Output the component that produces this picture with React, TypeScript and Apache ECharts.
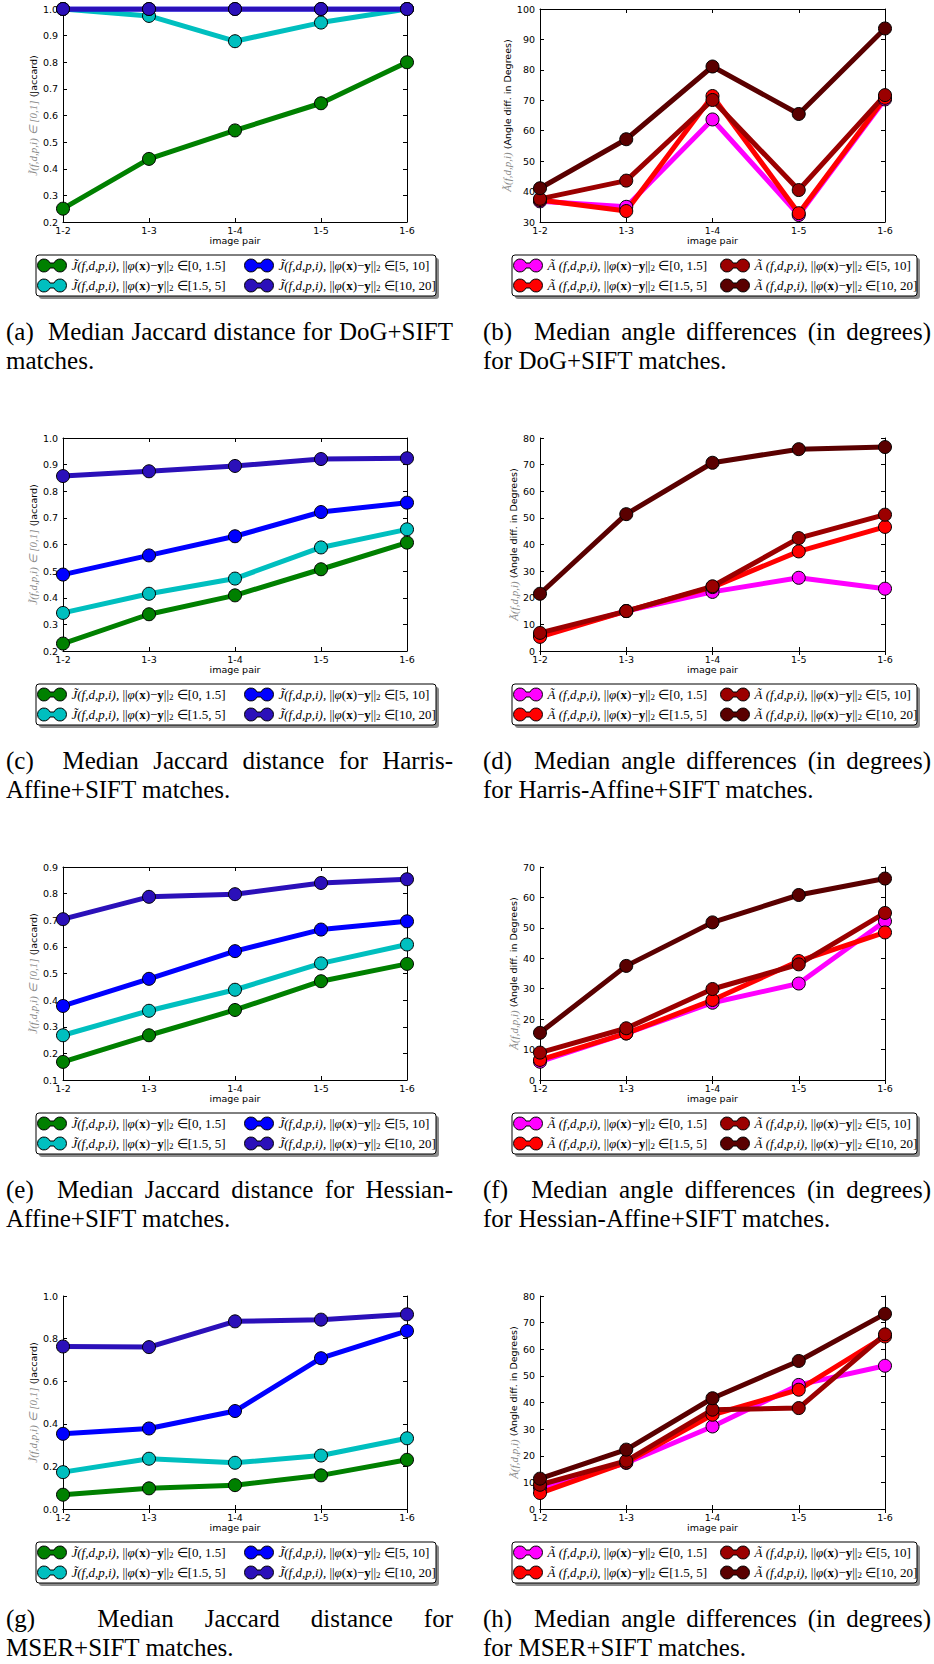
import React, { useEffect, useRef } from "react";
import * as echarts from "echarts";

// ---------- data ----------
const pairs = ["1-2", "1-3", "1-4", "1-5", "1-6"];
const ranges = ["[0, 1.5]", "[1.5, 5]", "[5, 10]", "[10, 20]"];
const jaccardColors = ["#008000", "#00bfbf", "#0000ff", "#2b10b9"];
const angleColors = ["#ff00ff", "#ff0000", "#9b0000", "#5a0000"];

// (a) DoG+SIFT, Jaccard
const dogJ0 = [0.25, 0.437, 0.544, 0.646, 0.8];
const dogJ1 = [1.0, 0.974, 0.879, 0.949, 1.0];
const dogJ2 = [1.0, 1.0, 1.0, 1.0, 1.0];
const dogJ3 = [1.0, 1.0, 1.0, 1.0, 1.0];
// (b) DoG+SIFT, angle
const dogA0 = [36.8, 35.0, 63.7, 32.3, 70.3];
const dogA1 = [37.2, 33.6, 71.4, 32.9, 70.8];
const dogA2 = [37.6, 43.6, 70.1, 40.5, 71.7];
const dogA3 = [41.1, 57.2, 81.1, 65.5, 93.6];
// (c) Harris-Affine+SIFT, Jaccard
const harJ0 = [0.228, 0.338, 0.409, 0.507, 0.607];
const harJ1 = [0.343, 0.415, 0.472, 0.589, 0.657];
const harJ2 = [0.487, 0.559, 0.631, 0.722, 0.757];
const harJ3 = [0.857, 0.875, 0.895, 0.921, 0.924];
// (d) Harris-Affine+SIFT, angle
const harA0 = [6.0, 15.0, 22.2, 27.5, 23.4];
const harA1 = [5.3, 15.0, 24.0, 37.4, 46.6];
const harA2 = [6.8, 15.0, 24.3, 42.4, 51.2];
const harA3 = [21.5, 51.4, 70.7, 75.8, 76.6];
// (e) Hessian-Affine+SIFT, Jaccard
const hesJ0 = [0.168, 0.268, 0.363, 0.471, 0.536];
const hesJ1 = [0.268, 0.36, 0.439, 0.538, 0.609];
const hesJ2 = [0.378, 0.48, 0.584, 0.665, 0.696];
const hesJ3 = [0.704, 0.788, 0.798, 0.84, 0.854];
// (f) Hessian-Affine+SIFT, angle
const hesA0 = [6.0, 15.3, 25.4, 31.7, 52.2];
const hesA1 = [6.6, 15.3, 26.3, 39.1, 48.5];
const hesA2 = [9.0, 17.0, 29.9, 38.0, 54.9];
const hesA3 = [15.5, 37.5, 51.8, 60.8, 66.2];
// (g) MSER+SIFT, Jaccard
const msrJ0 = [0.067, 0.097, 0.112, 0.158, 0.231];
const msrJ1 = [0.173, 0.236, 0.217, 0.251, 0.332];
const msrJ2 = [0.353, 0.378, 0.46, 0.708, 0.836];
const msrJ3 = [0.763, 0.76, 0.881, 0.889, 0.914];
// (h) MSER+SIFT, angle
const msrA0 = [7.9, 17.3, 31.0, 46.6, 53.8];
const msrA1 = [6.0, 17.5, 35.4, 44.8, 64.8];
const msrA2 = [9.1, 18.1, 37.3, 37.9, 65.6];
const msrA3 = [11.4, 22.3, 41.6, 55.6, 73.3];

const yMin = [0.2, 30, 0.2, 0, 0.1, 0, 0, 0];
const yMax = [1.0, 100, 1.0, 80, 0.9, 70, 1.0, 80];
const yStep = [0.1, 10, 0.1, 10, 0.1, 10, 0.2, 10];

const captionLine1 = [
  "(a)  Median Jaccard distance for DoG+SIFT",
  "(b)  Median angle differences (in degrees)",
  "(c)  Median Jaccard distance for Harris-",
  "(d)  Median angle differences (in degrees)",
  "(e)  Median Jaccard distance for Hessian-",
  "(f)  Median angle differences (in degrees)",
  "(g)  Median Jaccard distance for",
  "(h)  Median angle differences (in degrees)",
];
const captionLine2 = [
  "matches.",
  "for DoG+SIFT matches.",
  "Affine+SIFT matches.",
  "for Harris-Affine+SIFT matches.",
  "Affine+SIFT matches.",
  "for Hessian-Affine+SIFT matches.",
  "MSER+SIFT matches.",
  "for MSER+SIFT matches.",
];

const panelData = [
  [dogJ0, dogJ1, dogJ2, dogJ3],
  [dogA0, dogA1, dogA2, dogA3],
  [harJ0, harJ1, harJ2, harJ3],
  [harA0, harA1, harA2, harA3],
  [hesJ0, hesJ1, hesJ2, hesJ3],
  [hesA0, hesA1, hesA2, hesA3],
  [msrJ0, msrJ1, msrJ2, msrJ3],
  [msrA0, msrA1, msrA2, msrA3],
];

const jNames = ranges.map((r) => `J̃(f,d,p,i), ||φ(x)−y||₂ ∈${r}`);
const aNames = ranges.map((r) => `Ã(f,d,p,i), ||φ(x)−y||₂ ∈${r}`);

// ---------- layout ----------
const colLeft = [63, 540];
const colWidth = [344, 345];
const rowTop = [9, 438, 867, 1296];
const plotH = 213;
const legLeft = [36, 512];
const legWidth = [400, 405];
const legH = 41;
const capX = [6, 483];
const capW = [447, 448];
const CAP_FONT = 25;
const CAP_FAMILY = '"Liberation Serif", "Times New Roman", serif';

const ICON =
  "path://M12.5,4L16.5,4A6.5,6.5,0,1,1,16.5,9L12.5,9A6.5,6.5,0,1,1,12.5,4Z";

const legendRich = {
  s: { fontFamily: "Liberation Serif", fontStyle: "italic", fontSize: 13, lineHeight: 13, color: "#000" },
  i: { fontFamily: "Liberation Serif", fontStyle: "italic", fontSize: 13, lineHeight: 13, color: "#000" },
  n: { fontFamily: "Liberation Serif", fontSize: 13, lineHeight: 13, color: "#000" },
  b: { fontFamily: "Liberation Serif", fontWeight: "bold", fontSize: 13, lineHeight: 13, color: "#000" },
  sub: { fontFamily: "Liberation Serif", fontSize: 9, lineHeight: 13, verticalAlign: "bottom", color: "#000" },
};

function legendFormatter(name: string): string {
  const isJ = name.startsWith("J");
  const idx = (isJ ? jNames : aNames).indexOf(name);
  const sym = isJ ? "J̃" : "Ã";
  const gap = isJ ? "" : " ";
  return `{s|${sym}}{i|${gap}(f,d,p,i),} {n|||}{i|φ}{n|(}{b|x}{n|)−}{b|y}{n|||}{sub|2}{n| ∈${ranges[idx]}}`;
}

function measure(text: string): number {
  const ctx = document.createElement("canvas").getContext("2d");
  if (!ctx) return text.length * CAP_FONT * 0.45;
  ctx.font = `${CAP_FONT}px ${CAP_FAMILY}`;
  return ctx.measureText(text).width;
}

function buildOption() {
  const grid: any[] = [];
  const xAxis: any[] = [];
  const yAxis: any[] = [];
  const series: any[] = [];
  const legend: any[] = [];
  const elements: any[] = [];

  for (let k = 0; k < 8; k++) {
    const col = k % 2;
    const row = Math.floor(k / 2);
    const isJ = col === 0;
    const names = isJ ? jNames : aNames;
    const colors = isJ ? jaccardColors : angleColors;
    const left = colLeft[col];
    const top = rowTop[row];
    const width = colWidth[col];
    grid.push({ left, top, width, height: plotH, show: false, containLabel: false });

    const axisLineStyle = { show: true, lineStyle: { color: "#000", width: 1 } };
    const tickStyle = { show: true, inside: true, length: 4, lineStyle: { color: "#000", width: 1 } };

    xAxis.push({
      type: "category",
      gridIndex: k,
      data: pairs,
      boundaryGap: false,
      axisLine: axisLineStyle,
      axisTick: { ...tickStyle, interval: 0 },
      axisLabel: { interval: 0, color: "#000", fontSize: 9.5, fontFamily: "DejaVu Sans", margin: 3 },
      splitLine: { show: false },
      name: "image pair",
      nameLocation: "middle",
      nameGap: 12,
      nameTextStyle: { color: "#000", fontSize: 9.5, fontFamily: "DejaVu Sans", verticalAlign: "top" },
    });
    xAxis.push({
      type: "category",
      gridIndex: k,
      position: "top",
      data: pairs,
      boundaryGap: false,
      axisLine: axisLineStyle,
      axisTick: { ...tickStyle, interval: 0 },
      axisLabel: { show: false },
      splitLine: { show: false },
    });
    const dec = isJ ? 1 : 0;
    yAxis.push({
      type: "value",
      gridIndex: k,
      min: yMin[k],
      max: yMax[k],
      interval: yStep[k],
      axisLine: axisLineStyle,
      axisTick: tickStyle,
      axisLabel: {
        color: "#000",
        fontSize: 9.5,
        fontFamily: "DejaVu Sans",
        margin: 5,
        formatter: (v: number) => v.toFixed(dec),
      },
      splitLine: { show: false },
      name: isJ
        ? "{m|J̃(f,d,p,i) ∈ [0,1]} {n|(Jaccard)}"
        : "{m|Ã(f,d,p,i)} {n|(Angle diff. in Degrees)}",
      nameLocation: "middle",
      nameRotate: 90,
      nameGap: isJ ? 21 : 18,
      nameTextStyle: {
        color: "#000",
        fontSize: 9.5,
        fontFamily: "DejaVu Sans",
        rich: {
          m: { fontFamily: "Liberation Serif", fontStyle: "italic", fontSize: 11, color: "#8a8a8a" },
          n: { fontFamily: "DejaVu Sans", fontSize: 9.5, color: "#000" },
        },
      },
    });
    yAxis.push({
      type: "value",
      gridIndex: k,
      position: "right",
      min: yMin[k],
      max: yMax[k],
      interval: yStep[k],
      axisLine: axisLineStyle,
      axisTick: tickStyle,
      axisLabel: { show: false },
      splitLine: { show: false },
    });

    for (let s = 0; s < 4; s++) {
      series.push({
        type: "line",
        name: names[s],
        xAxisIndex: 2 * k,
        yAxisIndex: 2 * k,
        data: panelData[k][s],
        symbol: "circle",
        symbolSize: 13,
        showSymbol: true,
        showAllSymbol: true,
        lineStyle: { width: 5, color: colors[s] },
        itemStyle: { color: colors[s], borderColor: "#000", borderWidth: 1 },
        emphasis: { disabled: true },
        silent: true,
        z: 2,
      });
    }

    // legend box
    const boxTop = top + plotH + 33;
    const boxLeft = legLeft[col];
    const boxW = legWidth[col];
    elements.push({
      type: "rect",
      z: 0,
      shape: { x: boxLeft + 3, y: boxTop + 3, width: boxW, height: legH, r: 3 },
      style: { fill: "#8c8c8c" },
    });
    elements.push({
      type: "rect",
      z: 1,
      shape: { x: boxLeft, y: boxTop, width: boxW, height: legH, r: 3 },
      style: { fill: "#fff", stroke: "#000", lineWidth: 1 },
    });
    const legendBase = {
      orient: "vertical",
      top: boxTop + 3.5,
      padding: 0,
      itemGap: 6,
      itemWidth: 29,
      itemHeight: 13,
      icon: ICON,
      selectedMode: false,
      formatter: legendFormatter,
      itemStyle: { borderColor: "#000", borderWidth: 1 },
      textStyle: { fontFamily: "Liberation Serif", fontSize: 13, color: "#000", rich: legendRich },
    };
    legend.push({ ...legendBase, left: boxLeft + 1, data: [names[0], names[1]] });
    legend.push({ ...legendBase, left: boxLeft + 208, data: [names[2], names[3]] });

    // captions (line 1 justified; double space after the label counts double)
    const y1 = top + plotH + 109;
    const y2 = top + plotH + 138;
    const tokens: { word: string; weight: number }[] = [];
    const re = /(\S+)(\s*)/g;
    let m: RegExpExecArray | null;
    while ((m = re.exec(captionLine1[k])) !== null) {
      tokens.push({ word: m[1], weight: m[2].length });
    }
    const widths = tokens.map((t) => measure(t.word));
    const total = widths.reduce((a, b) => a + b, 0);
    const weightSum = tokens.slice(0, -1).reduce((a, t) => a + t.weight, 0);
    const unit = (capW[col] - total) / weightSum;
    let x = capX[col];
    tokens.forEach((t, i) => {
      elements.push({
        type: "text",
        x,
        y: y1,
        style: {
          text: t.word,
          fontSize: CAP_FONT,
          fontFamily: CAP_FAMILY,
          fill: "#000",
          verticalAlign: "middle",
          align: "left",
        },
      });
      x += widths[i] + unit * t.weight;
    });
    elements.push({
      type: "text",
      x: capX[col],
      y: y2,
      style: {
        text: captionLine2[k],
        fontSize: CAP_FONT,
        fontFamily: CAP_FAMILY,
        fill: "#000",
        verticalAlign: "middle",
        align: "left",
      },
    });
  }

  return {
    animation: false,
    backgroundColor: "#ffffff",
    textStyle: { fontFamily: "DejaVu Sans" },
    grid,
    xAxis,
    yAxis,
    series,
    legend,
    graphic: { elements },
  };
}

export default function App() {
  const ref = useRef<HTMLDivElement>(null);
  useEffect(() => {
    document.body.style.margin = "0";
    if (!ref.current) return;
    const chart = echarts.init(ref.current, undefined, { renderer: "svg" });
    chart.setOption(buildOption() as any);
    return () => chart.dispose();
  }, []);
  return (
    <div
      ref={ref}
      style={{ position: "absolute", left: 0, top: 0, width: 934, height: 1664, background: "#fff" }}
    />
  );
}
